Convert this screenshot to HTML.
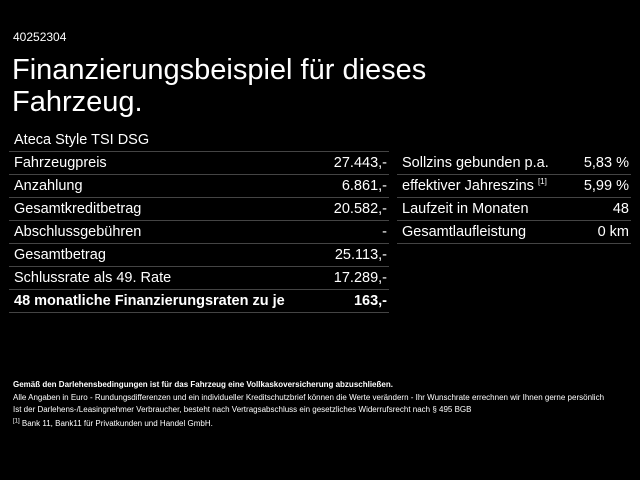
<!DOCTYPE html>
<html><head><meta charset="utf-8"><style>
body{margin:0;width:640px;height:480px;background:#000;color:#fff;font-family:"Liberation Sans",sans-serif;position:relative;overflow:hidden}
.a{position:absolute;white-space:nowrap}
.row{position:absolute;height:22px;border-bottom:1px solid #444;font-size:14.5px;line-height:22px}
.row span.l{position:absolute;left:5px}
.row span.r{position:absolute;right:2px}
.s{font-size:10.5px;line-height:15px}
</style></head><body>
<div class="a" style="left:13px;top:30px;font-size:12px">40252304</div>
<div class="a" style="left:12px;top:54px;font-size:29px;line-height:32px">Finanzierungsbeispiel für dieses<br>Fahrzeug.</div>
<div class="row" style="left:9px;top:129px;width:380px"><span class="l">Ateca Style TSI DSG</span></div>
<div class="row" style="left:9px;top:152px;width:380px"><span class="l">Fahrzeugpreis</span><span class="r">27.443,-</span></div>
<div class="row" style="left:9px;top:175px;width:380px"><span class="l">Anzahlung</span><span class="r">6.861,-</span></div>
<div class="row" style="left:9px;top:198px;width:380px"><span class="l">Gesamtkreditbetrag</span><span class="r">20.582,-</span></div>
<div class="row" style="left:9px;top:221px;width:380px"><span class="l">Abschlussgebühren</span><span class="r">-</span></div>
<div class="row" style="left:9px;top:244px;width:380px"><span class="l">Gesamtbetrag</span><span class="r">25.113,-</span></div>
<div class="row" style="left:9px;top:267px;width:380px"><span class="l">Schlussrate als 49. Rate</span><span class="r">17.289,-</span></div>
<div class="row" style="left:9px;top:290px;width:380px;font-weight:bold"><span class="l">48 monatliche Finanzierungsraten zu je</span><span class="r">163,-</span></div>
<div class="row" style="left:397px;top:152px;width:234px"><span class="l">Sollzins gebunden p.a.</span><span class="r">5,83 %</span></div>
<div class="row" style="left:397px;top:175px;width:234px"><span class="l">effektiver Jahreszins <sup style="font-size:8px;line-height:0">[1]</sup></span><span class="r">5,99 %</span></div>
<div class="row" style="left:397px;top:198px;width:234px"><span class="l">Laufzeit in Monaten</span><span class="r">48</span></div>
<div class="row" style="left:397px;top:221px;width:234px"><span class="l">Gesamtlaufleistung</span><span class="r">0 km</span></div>
<div class="a s" style="left:13px;top:377px;font-size:8px;font-weight:bold">Gemäß den Darlehensbedingungen ist für das Fahrzeug eine Vollkaskoversicherung abzuschließen.</div>
<div class="a s" style="left:13px;top:390px;font-size:8px">Alle Angaben in Euro - Rundungsdifferenzen und ein individueller Kreditschutzbrief können die Werte verändern - Ihr Wunschrate errechnen wir Ihnen gerne persönlich</div>
<div class="a s" style="left:13px;top:402px;font-size:8px">Ist der Darlehens-/Leasingnehmer Verbraucher, besteht nach Vertragsabschluss ein gesetzliches Widerrufsrecht nach § 495 BGB</div>
<div class="a s" style="left:13px;top:416px;font-size:8px"><sup style="font-size:6px;line-height:0">[1]</sup> Bank 11, Bank11 für Privatkunden und Handel GmbH.</div>
</body></html>
